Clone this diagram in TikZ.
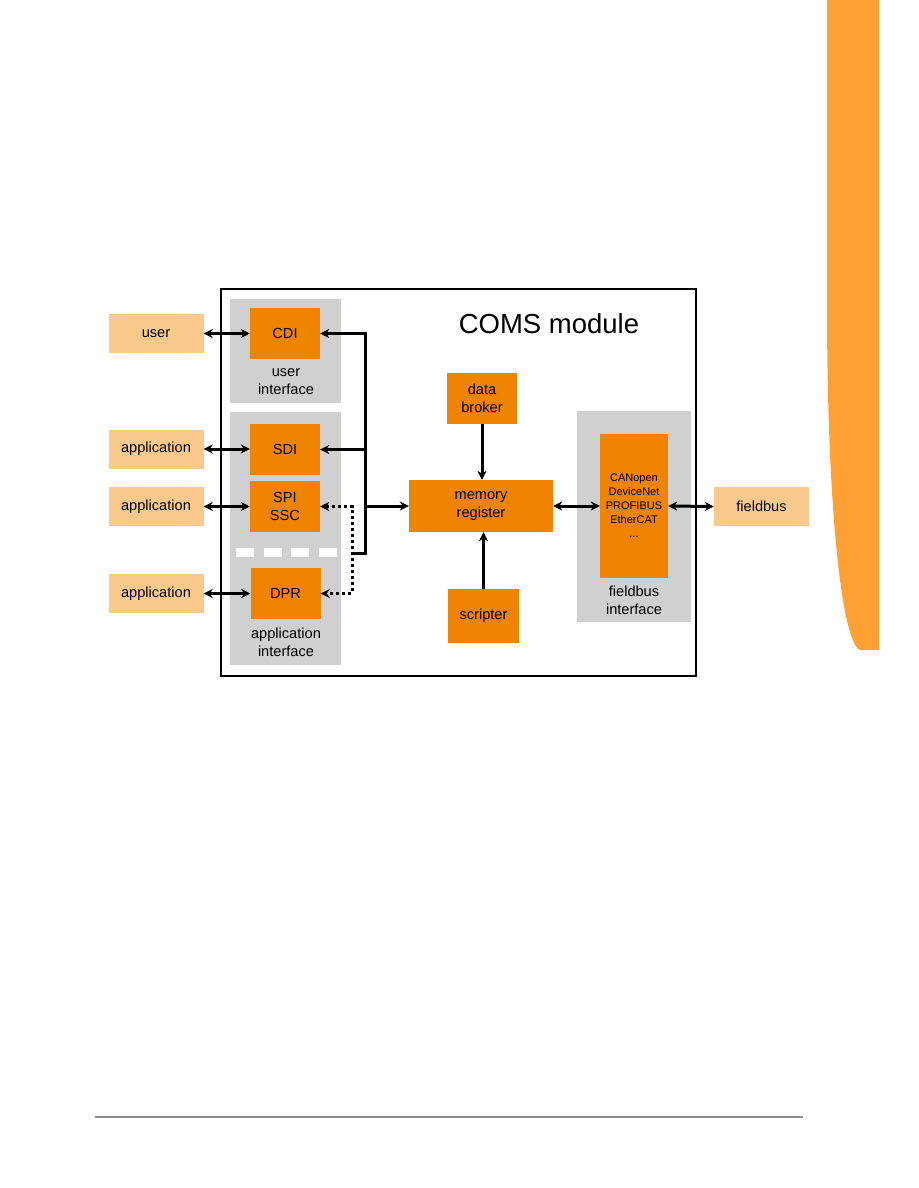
\documentclass[tikz,border=0pt]{standalone}
\usepackage{fontspec}
\setmainfont{Liberation Sans}
\usetikzlibrary{arrows.meta}
\definecolor{boxorange}{RGB}{240,131,0}
\definecolor{lightorange}{RGB}{250,202,140}
\definecolor{sidebar}{RGB}{255,160,52}
\definecolor{ifgray}{RGB}{208,208,208}
\tikzset{
  obox/.style={fill=boxorange, inner sep=0pt, align=center, font=\fontsize{14.6}{18}\selectfont},
  lbox/.style={fill=lightorange, inner sep=0pt, minimum width=95pt, minimum height=39pt, font=\fontsize{14.6}{18}\selectfont},
  gbox/.style={fill=ifgray, inner sep=0pt},
  lbl/.style={align=center, inner sep=0pt, font=\fontsize{14.6}{18}\selectfont},
  conn/.style={line width=3pt, draw=black},
  tip/.style={-{Stealth[length=9pt,width=9pt]}},
  dtip/.style={{Stealth[length=9pt,width=9pt]}-{Stealth[length=9pt,width=9pt]}},
  dotconn/.style={line width=3pt, dash pattern=on 3pt off 3pt},
  gapbox/.style={fill=white, inner sep=0pt, minimum width=18pt, minimum height=9pt}
}
\begin{document}
\begin{tikzpicture}[x=1pt,y=-1pt]
\useasboundingbox (0,0) rectangle (918,1188);
% side bar
\fill[sidebar] (827,0) -- (827,320) .. controls (828,540) and (845,645) .. (860,650) -- (879,650) -- (879,0) -- cycle;
% footer
\draw[black!45, line width=1.2pt] (95,1117) -- (803,1117);
% main box
\node[draw=black, line width=1.8pt, minimum width=475pt, minimum height=387pt, inner sep=0pt] (coms) at (458.5,482.5) {};
\node[font=\fontsize{27.5}{30}\selectfont, inner sep=0pt] (title) at (549,324) {COMS module};
% interface backgrounds
\node[gbox, minimum width=111pt, minimum height=104pt] (uif) at (285.5,351) {};
\node[gbox, minimum width=111pt, minimum height=253pt] (aif) at (285.5,538.5) {};
\node[gbox, minimum width=114pt, minimum height=211pt] (fif) at (634,516.5) {};
\node[lbl] (uiflbl) at (286,382) {user\\interface};
\node[lbl] (aiflbl) at (286,642) {application\\interface};
\node[lbl] (fiflbl) at (634,600) {fieldbus\\interface};
% orange blocks
\node[obox, minimum width=70pt, minimum height=51pt] (cdi) at (285,333.5) {CDI};
\node[obox, minimum width=70pt, minimum height=51pt] (sdi) at (285,449.5) {SDI};
\node[obox, minimum width=70pt, minimum height=51pt] (spi) at (285,506.5) {SPI\\SSC};
\node[obox, minimum width=70pt, minimum height=51pt] (dpr) at (285.5,593.5) {DPR};
\node[obox, minimum width=70pt, minimum height=51pt] (db) at (482,398.5) {data\\broker};
\node[obox, minimum width=144pt, minimum height=52pt] (mem) at (481,506) {memory\\register};
\node[obox, minimum width=71pt, minimum height=54pt] (scr) at (483.5,616) {scripter};
\node[obox, minimum width=68pt, minimum height=144pt, font=\fontsize{11}{14}\selectfont] (fbp) at (634,506) {CANopen\\DeviceNet\\PROFIBUS\\EtherCAT\\...};
% gaps
\node[gapbox] (g1) at (245,552.5) {};
\node[gapbox] (g2) at (272.5,552.5) {};
\node[gapbox] (g3) at (300,552.5) {};
\node[gapbox] (g4) at (328,552.5) {};
% external boxes
\node[lbox] (user) at (156,333.5) {user};
\node[lbox] (app1) at (156,449) {application};
\node[lbox] (app2) at (156,506.5) {application};
\node[lbox] (app3) at (156,593.5) {application};
\node[lbox] (fb) at (761.5,506.5) {fieldbus};
% external connectors
\draw[conn, dtip] (user.east) -- (cdi.west);
\draw[conn, dtip] (app1.east) -- (sdi.west |- app1.east);
\draw[conn, dtip] (app2.east) -- (spi.west |- app2.east);
\draw[conn, dtip] (app3.east) -- (dpr.west);
% bus
\coordinate (btop) at (365,333.5);
\coordinate (bsdi) at (365,449.5);
\coordinate (bmem) at (365,506);
\coordinate (bbot) at (365,553);
\coordinate (bend) at (351,553);
\draw[conn, tip, line join=miter] (bend) -- (bbot) -- (btop) -- (cdi.east);
\draw[conn, tip] (bsdi) -- (sdi.east);
\draw[conn, tip] (bmem) -- (mem.west);
% dotted
\coordinate (dtop) at (352,506.5);
\coordinate (dbot) at (352,593.5);
\draw[dotconn, dtip] (spi.east) -- (dtop) -- (dbot) -- (dpr.east);
% memory connectors
\draw[conn, tip] (db.south) -- (db.south |- mem.north);
\draw[conn, tip] (scr.north) -- (scr.north |- mem.south);
\draw[conn, dtip] (mem.east) -- (fbp.west);
\draw[conn, dtip] (fbp.east) -- (fb.west);
\end{tikzpicture}
\end{document}
